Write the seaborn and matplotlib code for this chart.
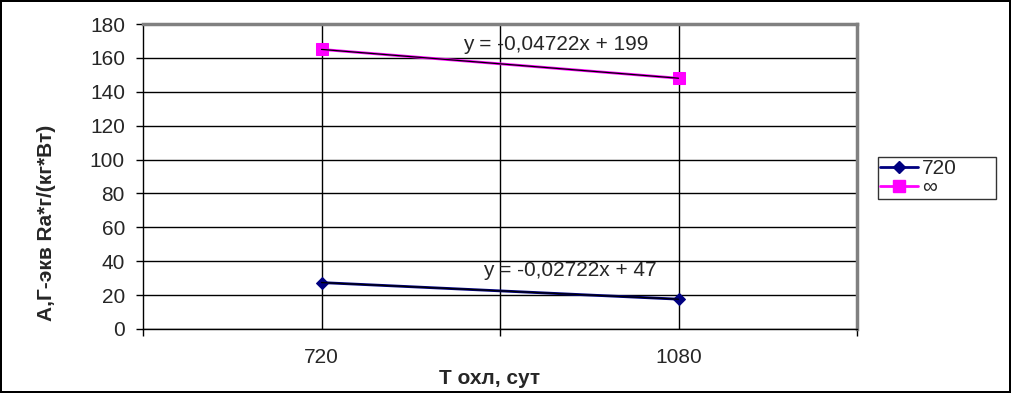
import numpy as np
import pandas as pd
import matplotlib
matplotlib.use("Agg")
import matplotlib.pyplot as plt
import seaborn as sns
from matplotlib.lines import Line2D

# ---- data ----
categories = ["720", "1080"]
t_values = [720, 1080]
series_names = ["720", "∞"]
vals_720 = [27.4, 17.6]
vals_inf = [165.0, 148.0]
trend_slope = [-0.02722, -0.04722]
trend_intercept = [47, 199]
trend_labels = ["y = -0,02722x + 47", "y = -0,04722x + 199"]
y_ticks = [0, 20, 40, 60, 80, 100, 120, 140, 160, 180]

colors = ["#000080", "#FF00FF"]
markers = ["D", "s"]
msizes = [6, 8]
FS = 15

sns.set_theme(style="white")
plt.rcParams["font.family"] = ["Liberation Sans", "DejaVu Sans"]

df = pd.DataFrame({
    "T": categories * 2,
    "val": vals_720 + vals_inf,
    "series": [series_names[0]] * 2 + [series_names[1]] * 2,
})

fig = plt.figure(figsize=(10.11, 3.93), dpi=100)
fig.patch.set_edgecolor("black")
fig.patch.set_linewidth(1.5)
ax = fig.add_axes([143 / 1011, 1 - 329 / 393, (857 - 143) / 1011, (329 - 24) / 393])

# grid
for y in y_ticks:
    ax.axhline(y, color="black", lw=1, zorder=1)
for x in [0, 0.5, 1]:
    ax.axvline(x, color="black", lw=1, zorder=1)

for i, name in enumerate(series_names):
    sub = df[df["series"] == name]
    sns.lineplot(data=sub, x="T", y="val", ax=ax, color=colors[i], lw=2,
                 marker=markers[i], markersize=msizes[i], markeredgecolor=colors[i],
                 zorder=3, legend=False)
    # trendline from equation
    trend = [trend_intercept[i] + trend_slope[i] * t for t in t_values]
    ax.plot([0, 1], trend, color="black", lw=0.9, zorder=4)

ax.set_xlim(-0.5, 1.5)
ax.set_ylim(0, 180)
ax.set_yticks(y_ticks)
ax.set_yticklabels([str(v) for v in y_ticks], fontsize=FS)
ax.set_xticks([0, 1])
ax.set_xticklabels(categories, fontsize=FS)
ax.set_xticks([-0.5, 0.5, 1.5], minor=True)
ax.tick_params(axis="x", which="major", length=0, pad=14)
ax.tick_params(axis="x", which="minor", length=5, width=1, color="black", direction="out", bottom=True)
ax.tick_params(axis="y", which="major", length=5, width=1, color="black", direction="out", left=True, pad=8)

for s in ["left", "bottom"]:
    ax.spines[s].set_color("black")
    ax.spines[s].set_linewidth(1)
for s in ["top", "right"]:
    ax.spines[s].set_color("#808080")
    ax.spines[s].set_linewidth(2.5)
ax.spines["bottom"].set_zorder(5)

ax.set_xlabel("Т охл, сут", fontsize=FS, fontweight="bold")
ax.xaxis.set_label_coords((490 - 143) / 714, (329 - 378) / 305)
ax.xaxis.label.set_va("center")
ax.set_ylabel("А,Г-экв Ra*г/(кг*Вт)", fontsize=FS, fontweight="bold")
ax.yaxis.set_label_coords((47 - 143) / 714, (329 - 223) / 305)
ax.yaxis.label.set_va("center")

# trend equations
fig.text(483 / 1011, 1 - 270 / 393, trend_labels[0], fontsize=FS, ha="left", va="center")
fig.text(463 / 1011, 1 - 45 / 393, trend_labels[1], fontsize=FS, ha="left", va="center")

handles = [Line2D([], [], color=colors[i], lw=2, marker=markers[i], markersize=msizes[i],
                  markeredgecolor=colors[i]) for i in range(2)]
leg = fig.legend(handles, series_names, loc="upper left", mode="expand",
                 bbox_to_anchor=(878 / 1011, 1 - 198 / 393, 118 / 1011, 41 / 393),
                 fontsize=FS, frameon=True, fancybox=False, handlelength=1.8,
                 handletextpad=0.2, borderpad=0.1, labelspacing=0.0, borderaxespad=0)
leg.get_frame().set_edgecolor("black")
leg.get_frame().set_linewidth(1)

fig.savefig("out.png", dpi=100)
